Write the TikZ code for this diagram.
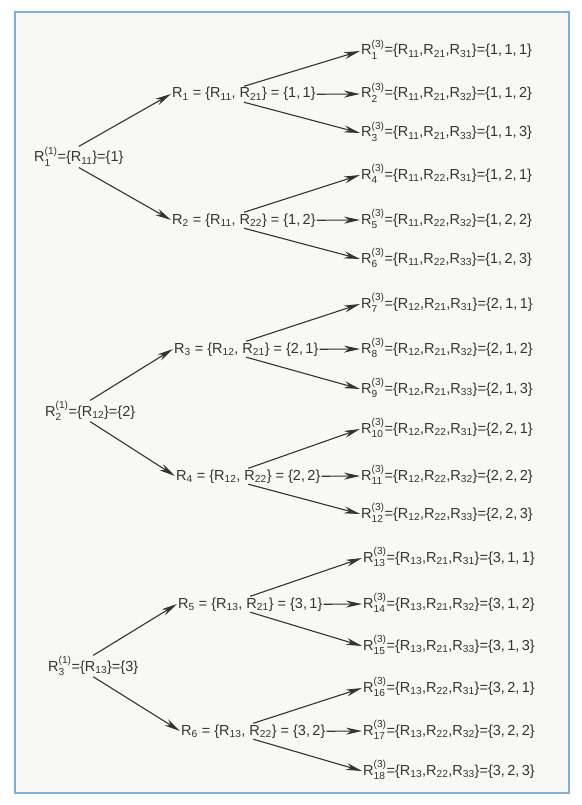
\documentclass[tikz,border=0pt]{standalone}
\usepackage{amsmath}
\usepackage{fontspec}
\setmainfont{Liberation Sans}
\usetikzlibrary{arrows.meta}
\definecolor{frameblue}{HTML}{7FB0DA}
\definecolor{ink}{HTML}{333333}
\definecolor{paper}{HTML}{F8F8F6}
\newcommand{\Rt}[2]{\ensuremath{\text{R}_{\text{#1}}^{\text{#2}}}}
\newcommand{\Rs}[1]{\ensuremath{\text{R}_{\text{#1}}}}
\begin{document}
\begin{tikzpicture}[x=1pt,y=-1pt,
  every node/.style={font=\fontsize{14.5}{17}\selectfont, text=ink, inner sep=1pt, anchor=base west},
  branch/.style={draw=ink, line width=1.1pt, -{Stealth[length=16pt,width=7pt,inset=5pt]}}]
  \useasboundingbox (0,0) rectangle (581,805);
  \draw[frameblue, line width=1.5pt, fill=paper] (15,12) rectangle (569,793);
  % first level
  \node (r1) at (33,162) {\Rt{1}{(1)}=\{\Rs{11}\}=\{1\}};
  \node (r2) at (44,416) {\Rt{2}{(1)}=\{\Rs{12}\}=\{2\}};
  \node (r3) at (47,671) {\Rt{3}{(1)}=\{\Rs{13}\}=\{3\}};
  % second level
  \node (m1) at (171,98) {\Rs{1} = \{\Rs{11}, \Rs{21}\} = \{1,\,1\}};
  \node (m2) at (171,224) {\Rs{2} = \{\Rs{11}, \Rs{22}\} = \{1,\,2\}};
  \node (m3) at (173,353) {\Rs{3} = \{\Rs{12}, \Rs{21}\} = \{2,\,1\}};
  \node (m4) at (175,480) {\Rs{4} = \{\Rs{12}, \Rs{22}\} = \{2,\,2\}};
  \node (m5) at (177,608) {\Rs{5} = \{\Rs{13}, \Rs{21}\} = \{3,\,1\}};
  \node (m6) at (180,735) {\Rs{6} = \{\Rs{13}, \Rs{22}\} = \{3,\,2\}};
  % third level
  \node (l1) at (360,55) {\Rt{1}{(3)}=\{\Rs{11},\Rs{21},\Rs{31}\}=\{1,\,1,\,1\}};
  \node (l2) at (360,98) {\Rt{2}{(3)}=\{\Rs{11},\Rs{21},\Rs{32}\}=\{1,\,1,\,2\}};
  \node (l3) at (360,137) {\Rt{3}{(3)}=\{\Rs{11},\Rs{21},\Rs{33}\}=\{1,\,1,\,3\}};
  \node (l4) at (360,179) {\Rt{4}{(3)}=\{\Rs{11},\Rs{22},\Rs{31}\}=\{1,\,2,\,1\}};
  \node (l5) at (360,224) {\Rt{5}{(3)}=\{\Rs{11},\Rs{22},\Rs{32}\}=\{1,\,2,\,2\}};
  \node (l6) at (360,263) {\Rt{6}{(3)}=\{\Rs{11},\Rs{22},\Rs{33}\}=\{1,\,2,\,3\}};
  \node (l7) at (360,308) {\Rt{7}{(3)}=\{\Rs{12},\Rs{21},\Rs{31}\}=\{2,\,1,\,1\}};
  \node (l8) at (360,353) {\Rt{8}{(3)}=\{\Rs{12},\Rs{21},\Rs{32}\}=\{2,\,1,\,2\}};
  \node (l9) at (360,393) {\Rt{9}{(3)}=\{\Rs{12},\Rs{21},\Rs{33}\}=\{2,\,1,\,3\}};
  \node (l10) at (360,433) {\Rt{10}{(3)}=\{\Rs{12},\Rs{22},\Rs{31}\}=\{2,\,2,\,1\}};
  \node (l11) at (360,480) {\Rt{11}{(3)}=\{\Rs{12},\Rs{22},\Rs{32}\}=\{2,\,2,\,2\}};
  \node (l12) at (360,518) {\Rt{12}{(3)}=\{\Rs{12},\Rs{22},\Rs{33}\}=\{2,\,2,\,3\}};
  \node (l13) at (362,562) {\Rt{13}{(3)}=\{\Rs{13},\Rs{21},\Rs{31}\}=\{3,\,1,\,1\}};
  \node (l14) at (362,608) {\Rt{14}{(3)}=\{\Rs{13},\Rs{21},\Rs{32}\}=\{3,\,1,\,2\}};
  \node (l15) at (362,650) {\Rt{15}{(3)}=\{\Rs{13},\Rs{21},\Rs{33}\}=\{3,\,1,\,3\}};
  \node (l16) at (362,692) {\Rt{16}{(3)}=\{\Rs{13},\Rs{22},\Rs{31}\}=\{3,\,2,\,1\}};
  \node (l17) at (362,735) {\Rt{17}{(3)}=\{\Rs{13},\Rs{22},\Rs{32}\}=\{3,\,2,\,2\}};
  \node (l18) at (362,775) {\Rt{18}{(3)}=\{\Rs{13},\Rs{22},\Rs{33}\}=\{3,\,2,\,3\}};
  % arrows
  \draw[branch] (r1.north) -- ([yshift=4pt]m1.base west);
  \draw[branch] (r1.south) -- ([yshift=4pt]m2.base west);
  \draw[branch] (r2.north) -- ([yshift=4pt]m3.base west);
  \draw[branch] (r2.south) -- ([yshift=4pt]m4.base west);
  \draw[branch] (r3.north) -- ([yshift=4pt]m5.base west);
  \draw[branch] (r3.south) -- ([yshift=4pt]m6.base west);
  \draw[branch] (m1.north) -- ([yshift=4pt]l1.base west);
  \draw[branch] (m1.east) -- ([yshift=4pt]l2.base west);
  \draw[branch] (m1.south) -- ([yshift=4pt]l3.base west);
  \draw[branch] (m2.north) -- ([yshift=4pt]l4.base west);
  \draw[branch] (m2.east) -- ([yshift=4pt]l5.base west);
  \draw[branch] (m2.south) -- ([yshift=4pt]l6.base west);
  \draw[branch] (m3.north) -- ([yshift=4pt]l7.base west);
  \draw[branch] (m3.east) -- ([yshift=4pt]l8.base west);
  \draw[branch] (m3.south) -- ([yshift=4pt]l9.base west);
  \draw[branch] (m4.north) -- ([yshift=4pt]l10.base west);
  \draw[branch] (m4.east) -- ([yshift=4pt]l11.base west);
  \draw[branch] (m4.south) -- ([yshift=4pt]l12.base west);
  \draw[branch] (m5.north) -- ([yshift=4pt]l13.base west);
  \draw[branch] (m5.east) -- ([yshift=4pt]l14.base west);
  \draw[branch] (m5.south) -- ([yshift=4pt]l15.base west);
  \draw[branch] (m6.north) -- ([yshift=4pt]l16.base west);
  \draw[branch] (m6.east) -- ([yshift=4pt]l17.base west);
  \draw[branch] (m6.south) -- ([yshift=4pt]l18.base west);
\end{tikzpicture}
\end{document}
